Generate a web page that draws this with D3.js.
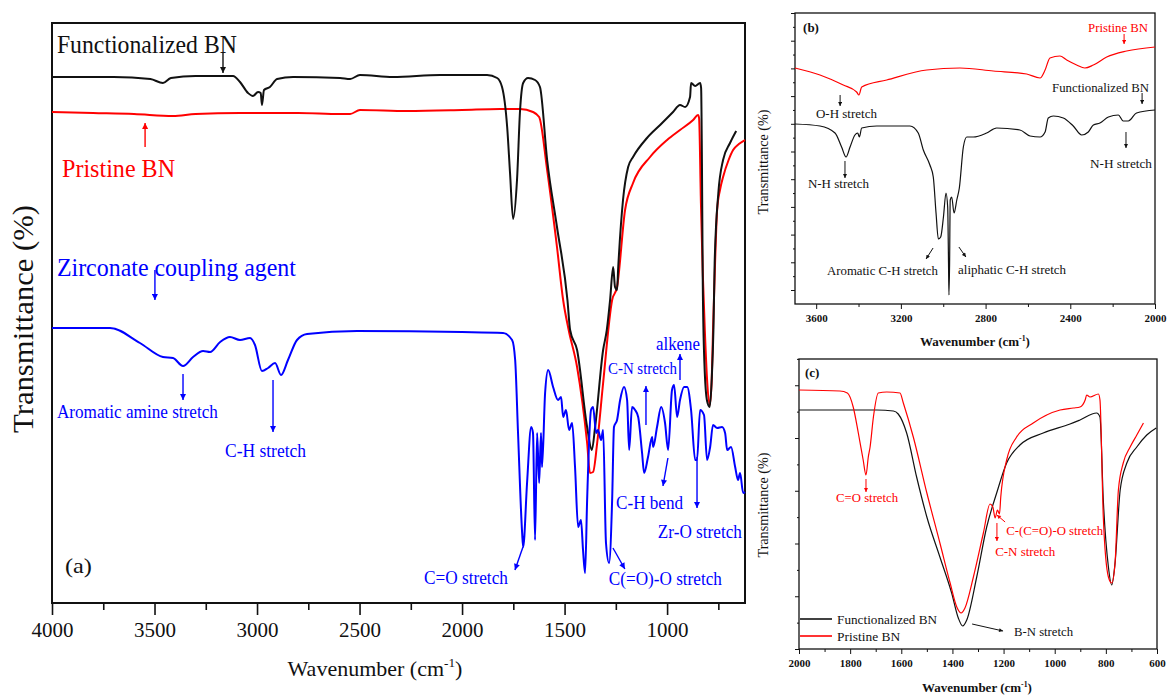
<!DOCTYPE html>
<html>
<head>
<meta charset="utf-8">
<script src="https://cdn.jsdelivr.net/npm/d3@7"></script>
<style>
  body { margin: 0; background: #fff; }
  svg { display: block; }
  text { font-family: "Liberation Serif", "Times New Roman", serif; }
</style>
</head>
<body>
<svg id="chart" width="1167" height="695"></svg>
<script>
// ---- panel (a): full range spectra, [wavenumber, transmittance a.u.]
const aFunctionalized = [
  [4000, 52.6], [3700, 52.6], [3520, 52.4], [3459, 52.0], [3420, 52.5], [3300, 52.7], [3117, 52.7],
  [3083, 52.1], [3044, 51.0], [3020, 50.7], [2995, 51.1], [2982, 51.0], [2976, 49.8], [2966, 51.3],
  [2937, 51.6], [2902, 52.4], [2824, 52.6], [2595, 52.5], [2546, 52.4], [2498, 52.8], [2337, 52.6],
  [2107, 52.8], [1878, 52.8], [1829, 52.5], [1805, 51.6], [1780, 47.6], [1766, 43.0], [1751, 38.4],
  [1732, 42.3], [1717, 49.3], [1702, 52.0], [1678, 52.5], [1644, 52.3], [1620, 51.6], [1585, 44.3],
  [1537, 37.6], [1486, 30.3], [1473, 27.3], [1439, 25.3], [1390, 17.6], [1367, 15.3], [1351, 17.6],
  [1312, 25.3], [1294, 27.3], [1278, 30.3], [1263, 33.6], [1254, 31.6], [1244, 31.3], [1239, 33.3],
  [1215, 40.3], [1190, 43.6], [1166, 44.6], [1098, 46.5], [1034, 47.8], [971, 49.1], [937, 49.8],
  [912, 49.6], [888, 50.6], [883, 52.0], [863, 51.7], [839, 52.0], [834, 51.5], [830, 44.0],
  [826, 32.0], [818, 24.0], [805, 20.2], [792, 19.6], [782, 22.5], [774, 27.3], [768, 34.0],
  [750, 41.0], [727, 44.3], [693, 46.0], [663, 47.2],
];
const aPristine = [
  [4000, 49.1], [3800, 49.0], [3600, 48.9], [3410, 48.7], [3300, 48.9], [3083, 49.0], [2800, 49.0],
  [2595, 48.9], [2546, 48.9], [2498, 49.3], [2268, 49.2], [2000, 49.3], [1815, 49.4], [1717, 49.4],
  [1654, 49.1], [1624, 48.6], [1585, 43.3], [1537, 35.6], [1507, 30.3], [1480, 27.3], [1439, 23.6],
  [1390, 16.0], [1376, 13.0], [1361, 13.1], [1341, 16.0], [1312, 22.0], [1268, 30.3], [1244, 31.6],
  [1205, 39.3], [1166, 42.0], [1083, 44.6], [1000, 46.3], [937, 47.3], [873, 48.3], [849, 48.8],
  [844, 48.5], [835, 40.0], [826, 33.0], [816, 27.3], [804, 22.0], [792, 19.8], [782, 22.5],
  [776, 27.3], [766, 34.0], [756, 39.3], [742, 41.3], [727, 42.6], [700, 44.3], [678, 45.3],
  [650, 45.9], [620, 46.3],
];
const aZirconate = [
  [4000, 27.5], [3717, 27.5], [3571, 26.0], [3459, 24.6], [3410, 24.5], [3361, 23.7], [3312, 24.6],
  [3263, 25.2], [3229, 25.1], [3180, 26.1], [3132, 26.6], [3083, 26.3], [3034, 26.5], [3010, 25.8],
  [2976, 23.2], [2946, 23.5], [2912, 24.0], [2883, 22.8], [2849, 24.3], [2805, 26.3], [2756, 26.9],
  [2512, 27.2], [2000, 27.1], [1800, 27.0], [1756, 26.3], [1741, 24.3], [1727, 17.0], [1707, 7.0],
  [1702, 5.6], [1683, 12.0], [1663, 17.6], [1654, 17.0], [1644, 6.3], [1634, 17.0], [1624, 12.0],
  [1615, 17.0], [1610, 13.6], [1595, 21.0], [1580, 23.3], [1556, 21.6], [1532, 20.3], [1517, 20.6],
  [1507, 18.6], [1493, 19.3], [1478, 17.3], [1463, 18.0], [1449, 13.6], [1434, 7.6], [1420, 8.3],
  [1410, 5.3], [1400, 3.0], [1390, 10.3], [1371, 19.3], [1361, 19.6], [1346, 17.0], [1337, 17.3],
  [1322, 16.3], [1312, 17.3], [1298, 6.0], [1283, 4.0], [1268, 10.3], [1259, 17.6], [1244, 18.3],
  [1229, 20.3], [1210, 21.6], [1195, 20.3], [1185, 15.3], [1171, 19.6], [1156, 19.3], [1141, 18.6],
  [1122, 15.0], [1112, 13.0], [1093, 14.6], [1073, 16.6], [1068, 15.6], [1049, 17.6], [1029, 19.6],
  [1010, 18.0], [995, 15.3], [976, 21.3], [966, 21.8], [951, 18.6], [937, 20.3], [917, 21.6],
  [902, 21.6], [883, 19.3], [863, 14.3], [854, 14.3], [839, 19.3], [820, 18.8], [805, 14.3],
  [790, 15.6], [776, 17.8], [756, 17.5], [732, 17.6], [717, 17.0], [707, 15.3], [688, 15.6],
  [668, 13.6], [654, 12.3], [644, 13.0], [629, 11.0], [620, 11.1],
];

// ---- panel (b): 3700-2000 region
const bPristine = [
  [3700, 23.6], [3582, 22.9], [3472, 21.9], [3409, 21.2], [3398, 20.9], [3385, 21.7], [3267, 22.4],
  [3078, 23.4], [2921, 23.6], [2764, 23.3], [2606, 23.0], [2543, 22.6], [2519, 23.4], [2496, 24.6],
  [2449, 24.8], [2417, 24.4], [2370, 23.9], [2331, 23.6], [2291, 23.9], [2228, 24.7], [2134, 25.3],
  [2000, 25.7],
];
const bFunctionalized = [
  [3700, 18.0], [3582, 17.8], [3511, 17.1], [3480, 15.7], [3459, 14.7], [3440, 15.7], [3417, 16.9],
  [3404, 17.1], [3396, 16.7], [3385, 17.6], [3314, 17.8], [3157, 17.8], [3118, 17.1], [3094, 15.4],
  [3063, 13.9], [3047, 12.7], [3034, 9.1], [3023, 6.5], [3012, 6.7], [2999, 8.7], [2987, 11.1],
  [2979, 9.7], [2975, 4.0], [2973, 0.9], [2970, 4.0], [2967, 10.4], [2960, 10.7], [2949, 9.1],
  [2936, 10.4], [2924, 11.6], [2905, 15.7], [2889, 16.7], [2858, 16.7], [2795, 17.1], [2748, 17.6],
  [2638, 17.4], [2590, 16.8], [2543, 16.7], [2519, 17.2], [2504, 18.6], [2480, 18.8], [2433, 18.6],
  [2386, 17.8], [2346, 16.9], [2315, 17.2], [2291, 17.9], [2260, 18.1], [2220, 18.7], [2173, 18.9],
  [2150, 18.3], [2126, 18.3], [2087, 19.1], [2000, 19.4],
];

// ---- panel (c): 2000-600 region
const cPristine = [
  [2000, 25.9], [1840, 25.8], [1811, 25.6], [1788, 24.2], [1768, 21.6], [1749, 18.9], [1738, 17.4],
  [1729, 19.2], [1722, 20.2], [1709, 23.2], [1690, 25.6], [1657, 25.7], [1605, 25.6], [1592, 24.6],
  [1553, 21.2], [1500, 15.6], [1449, 10.6], [1409, 6.6], [1383, 4.2], [1366, 3.6], [1351, 4.1],
  [1318, 7.2], [1279, 11.6], [1253, 14.5], [1242, 14.2], [1233, 13.1], [1224, 13.9], [1216, 13.5],
  [1211, 15.2], [1188, 18.9], [1149, 21.2], [1084, 22.6], [979, 23.9], [927, 24.1], [901, 24.2],
  [881, 24.9], [875, 25.4], [862, 25.2], [829, 25.5], [823, 24.9], [810, 13.2], [790, 7.2],
  [777, 6.6], [764, 8.6], [751, 15.9], [732, 18.6], [705, 20.2], [679, 21.4], [653, 22.6],
];
const cFunctionalized = [
  [2000, 23.9], [1696, 23.9], [1631, 23.8], [1612, 23.5], [1579, 21.6], [1540, 17.2], [1500, 13.2],
  [1449, 9.2], [1403, 5.6], [1377, 3.1], [1360, 2.3], [1344, 2.9], [1305, 7.2], [1266, 12.2],
  [1227, 15.6], [1188, 18.6], [1136, 20.4], [1045, 21.6], [940, 22.5], [901, 22.9], [836, 23.6],
  [823, 23.2], [810, 14.9], [790, 8.2], [777, 6.4], [764, 8.6], [744, 15.9], [718, 18.6],
  [679, 20.2], [640, 21.4], [603, 22.1],
];

const aTicks = [4000, 3500, 3000, 2500, 2000, 1500, 1000];
const aMinorTicks = [3750, 3250, 2750, 2250, 1750, 1250, 750];
const bTicks = [3600, 3200, 2800, 2400, 2000];
const bMinorTicks = [3400, 3000, 2600, 2200];
const cTicks = [2000, 1800, 1600, 1400, 1200, 1000, 800, 600];
const cMinorTicks = [1900, 1700, 1500, 1300, 1100, 900, 700];

const RED = '#ff0000';
const BLUE = '#0000ff';
const INK = '#111';

const svg = d3.select('#chart');

const pa = {
  x: d3.scaleLinear().domain([4000, 620]).range([52, 745]),
  y: d3.scaleLinear().domain([0, 58]).range([603, 23]),
};
const pb = {
  x: d3.scaleLinear().domain([3700, 2000]).range([795, 1155]),
  y: d3.scaleLinear().domain([0, 29.1]).range([304, 13]),
};
const pc = {
  x: d3.scaleLinear().domain([2000, 600]).range([799, 1157]),
  y: d3.scaleLinear().domain([0, 29]).range([649, 359]),
};

// arrow heads, one per colour and size
const defs = svg.append('defs');
[['k', INK], ['r', RED], ['b', BLUE]].forEach(([id, col]) => {
  [['big', 8, 6], ['small', 5, 4]].forEach(([sz, len, wid]) => {
    defs.append('marker')
      .attr('id', `head-${id}-${sz}`)
      .attr('viewBox', '0 0 10 10')
      .attr('refX', 10).attr('refY', 5)
      .attr('markerUnits', 'userSpaceOnUse')
      .attr('markerWidth', len).attr('markerHeight', wid)
      .attr('orient', 'auto')
      .append('path')
      .attr('d', 'M0,0 L10,5 L0,10 Z')
      .attr('fill', col);
  });
});

function frame(p, width) {
  const [x0, x1] = p.x.range();
  const [y0, y1] = p.y.range();
  svg.append('rect')
    .attr('x', x0).attr('y', y1)
    .attr('width', x1 - x0).attr('height', y0 - y1)
    .attr('fill', 'none')
    .attr('stroke', INK)
    .attr('stroke-width', width);
}

function bottomAxis(p, major, minor, opts) {
  const g = svg.append('g')
    .attr('transform', `translate(0,${p.y.range()[0]})`)
    .call(d3.axisBottom(p.x).tickValues(major).tickSize(opts.major).tickPadding(opts.pad).tickFormat(d3.format('d')));
  g.select('.domain').remove();
  g.attr('font-family', null).attr('font-size', opts.font).attr('font-weight', opts.bold ? 'bold' : null)
    .attr('color', INK);
  g.selectAll('line').attr('stroke-width', opts.width);

  const m = svg.append('g')
    .attr('transform', `translate(0,${p.y.range()[0]})`)
    .call(d3.axisBottom(p.x).tickValues(minor).tickSize(opts.minor).tickFormat(''));
  m.select('.domain').remove();
  m.attr('color', INK);
  m.selectAll('line').attr('stroke-width', opts.width);
}

function leftTicks(p, major, minor) {
  [[major, 4], [minor, 2]].forEach(([vals, size]) => {
    const g = svg.append('g')
      .attr('transform', `translate(${p.x.range()[0]},0)`)
      .call(d3.axisLeft(p.y).tickValues(vals).tickSize(size).tickFormat(''));
    g.select('.domain').remove();
    g.attr('color', INK);
  });
}

function spectrum(p, data, color, width) {
  const line = d3.line()
    .x((d) => p.x(d[0]))
    .y((d) => p.y(d[1]))
    .curve(d3.curveMonotoneX);
  svg.append('path')
    .datum(data)
    .attr('d', line)
    .attr('fill', 'none')
    .attr('stroke', color)
    .attr('stroke-width', width)
    .attr('stroke-linejoin', 'round');
}

function notes(p, list, size) {
  list.forEach((d) => {
    const t = svg.append('text')
      .attr('x', p.x(d.w))
      .attr('y', p.y(d.v))
      .attr('fill', d.color || INK)
      .attr('font-size', d.size || size)
      .attr('font-weight', d.bold ? 'bold' : null)
      .text(d.text);
    if (d.len) t.attr('textLength', d.len).attr('lengthAdjust', 'spacingAndGlyphs');
  });
}

function arrows(p, list, sz, width) {
  list.forEach((d) => {
    const col = d.c || 'k';
    const stroke = col === 'r' ? RED : col === 'b' ? BLUE : INK;
    svg.append('line')
      .attr('x1', p.x(d.from[0])).attr('y1', p.y(d.from[1]))
      .attr('x2', p.x(d.to[0])).attr('y2', p.y(d.to[1]))
      .attr('stroke', stroke)
      .attr('stroke-width', width)
      .attr('marker-end', `url(#head-${col}-${sz})`);
  });
}

function xTitle(x, y, size, weight) {
  const t = svg.append('text')
    .attr('x', x).attr('y', y)
    .attr('text-anchor', 'middle')
    .attr('font-size', size)
    .attr('font-weight', weight)
    .attr('fill', INK);
  t.append('tspan').text('Wavenumber (cm');
  t.append('tspan').attr('dy', -size * 0.42).attr('font-size', size * 0.6).text('-1');
  t.append('tspan').attr('dy', size * 0.42).text(')');
}

function yTitle(x, y, size, len) {
  svg.append('text')
    .attr('transform', `translate(${x},${y}) rotate(-90)`)
    .attr('text-anchor', 'middle')
    .attr('font-size', size)
    .attr('fill', INK)
    .attr('textLength', len)
    .attr('lengthAdjust', 'spacingAndGlyphs')
    .text('Transmittance (%)');
}

// ---------------- panel (a)
frame(pa, 2);
bottomAxis(pa, aTicks, aMinorTicks, { major: 12, minor: 7, pad: 7, font: 21, width: 1.6 });
spectrum(pa, aPristine, RED, 2);
spectrum(pa, aFunctionalized, INK, 2);
spectrum(pa, aZirconate, BLUE, 2);

notes(pa, [
  { text: 'Functionalized BN', w: 3976, v: 55.0, size: 26, len: 180 },
  { text: 'Pristine BN', w: 3951, v: 42.6, color: RED, size: 26, len: 113 },
  { text: 'Zirconate coupling agent', w: 3976, v: 32.7, color: BLUE, size: 26, len: 239 },
  { text: 'Aromatic amine stretch', w: 3976, v: 18.5, color: BLUE, len: 161 },
  { text: 'C-H stretch', w: 3156, v: 14.6, color: BLUE, len: 81 },
  { text: 'C=O stretch', w: 2186, v: 1.9, color: BLUE, len: 84 },
  { text: 'C(=O)-O stretch', w: 1284, v: 1.8, color: BLUE, len: 113 },
  { text: 'C-H bend', w: 1249, v: 9.4, color: BLUE, len: 67 },
  { text: 'Zr-O stretch', w: 1045, v: 6.5, color: BLUE, len: 84 },
  { text: 'C-N stretch', w: 1288, v: 22.9, color: BLUE, size: 16, len: 69 },
  { text: 'alkene', w: 1054, v: 25.3, color: BLUE, len: 44 },
  { text: '(a)', w: 3937, v: 3.0, size: 22, len: 27 },
], 19);

arrows(pa, [
  { from: [3166, 55.0], to: [3166, 53.0] },
  { from: [3546, 45.6], to: [3546, 48.0], c: 'r' },
  { from: [3498, 33.3], to: [3498, 30.3], c: 'b' },
  { from: [3361, 22.9], to: [3361, 20.3], c: 'b' },
  { from: [2922, 22.3], to: [2922, 17.1], c: 'b' },
  { from: [1703, 5.6], to: [1742, 3.3], c: 'b' },
  { from: [1264, 5.5], to: [1206, 3.4], c: 'b' },
  { from: [996, 14.5], to: [1020, 11.7], c: 'b' },
  { from: [854, 14.6], to: [854, 9.5], c: 'b' },
  { from: [1103, 17.8], to: [1103, 21.7], c: 'b' },
  { from: [937, 22.3], to: [937, 24.9], c: 'b' },
], 'big', 1.4);

xTitle(375, 676, 22, null);
yTitle(33, 319, 30, 228);

// ---------------- panel (b)
frame(pb, 1.3);
bottomAxis(pb, bTicks, bMinorTicks, { major: 5, minor: 3, pad: 5, font: 11, bold: true, width: 1 });
leftTicks(pb, d3.range(0, 11).map((i) => 1.4 + i * 2.77), d3.range(0, 10).map((i) => 2.785 + i * 2.77));
spectrum(pb, bPristine, RED, 1.2);
spectrum(pb, bFunctionalized, INK, 1.2);

notes(pb, [
  { text: '(b)', w: 3662, v: 27.2, bold: true },
  { text: 'Pristine BN', w: 2316, v: 27.2, color: RED, len: 60 },
  { text: 'O-H stretch', w: 3601, v: 18.6, len: 61 },
  { text: 'Functionalized BN', w: 2486, v: 21.2, len: 97 },
  { text: 'N-H stretch', w: 3639, v: 11.6, len: 61 },
  { text: 'N-H stretch', w: 2307, v: 13.6, len: 62 },
  { text: 'Aromatic C-H stretch', w: 3549, v: 2.9, len: 111 },
  { text: 'aliphatic C-H stretch', w: 2930, v: 3.0, len: 108 },
], 13);

arrows(pb, [
  { from: [2146, 27.0], to: [2146, 26.0], c: 'r' },
  { from: [3487, 20.9], to: [3487, 19.8] },
  { from: [2061, 21.1], to: [2061, 20.0] },
  { from: [3464, 14.3], to: [3464, 12.6] },
  { from: [2137, 17.2], to: [2137, 15.6] },
  { from: [3048, 5.6], to: [3081, 4.5] },
  { from: [2926, 5.7], to: [2893, 4.7] },
], 'small', 1);

xTitle(975, 346, 13, 'bold');
yTitle(768, 162, 14, 105);

// ---------------- panel (c)
frame(pc, 1.3);
bottomAxis(pc, cTicks, cMinorTicks, { major: 5, minor: 3, pad: 5, font: 11, bold: true, width: 1 });
leftTicks(pc, d3.range(0, 6).map((i) => i * 5.275), d3.range(0, 6).map((i) => 2.6375 + i * 5.275));
spectrum(pc, cFunctionalized, INK, 1.2);
spectrum(pc, cPristine, RED, 1.2);

notes(pc, [
  { text: '(c)', w: 1977, v: 27.2, bold: true },
  { text: 'C=O stretch', w: 1855, v: 14.7, color: RED, len: 62 },
  { text: 'C-(C=O)-O stretch', w: 1190, v: 11.4, color: RED, len: 97 },
  { text: 'C-N stretch', w: 1233, v: 9.3, color: RED, len: 60 },
  { text: 'B-N stretch', w: 1159, v: 1.3, len: 59 },
  { text: 'Functionalized BN', w: 1851, v: 2.5, len: 100 },
  { text: 'Pristine BN', w: 1851, v: 0.8, len: 63 },
], 13);

arrows(pc, [
  { from: [1738, 17.0], to: [1738, 15.7], c: 'r' },
  { from: [1194, 12.7], to: [1226, 13.4], c: 'r' },
  { from: [1226, 12.6], to: [1226, 10.8], c: 'r' },
  { from: [1323, 2.5], to: [1202, 1.8] },
], 'small', 1);

// legend swatches
[[INK, 3.0], [RED, 1.3]].forEach(([col, v]) => {
  svg.append('line')
    .attr('x1', pc.x(1996)).attr('x2', pc.x(1871))
    .attr('y1', pc.y(v)).attr('y2', pc.y(v))
    .attr('stroke', col)
    .attr('stroke-width', 1.6);
});

xTitle(977, 692, 13, 'bold');
yTitle(768, 505, 14, 105);
</script>
</body>
</html>
